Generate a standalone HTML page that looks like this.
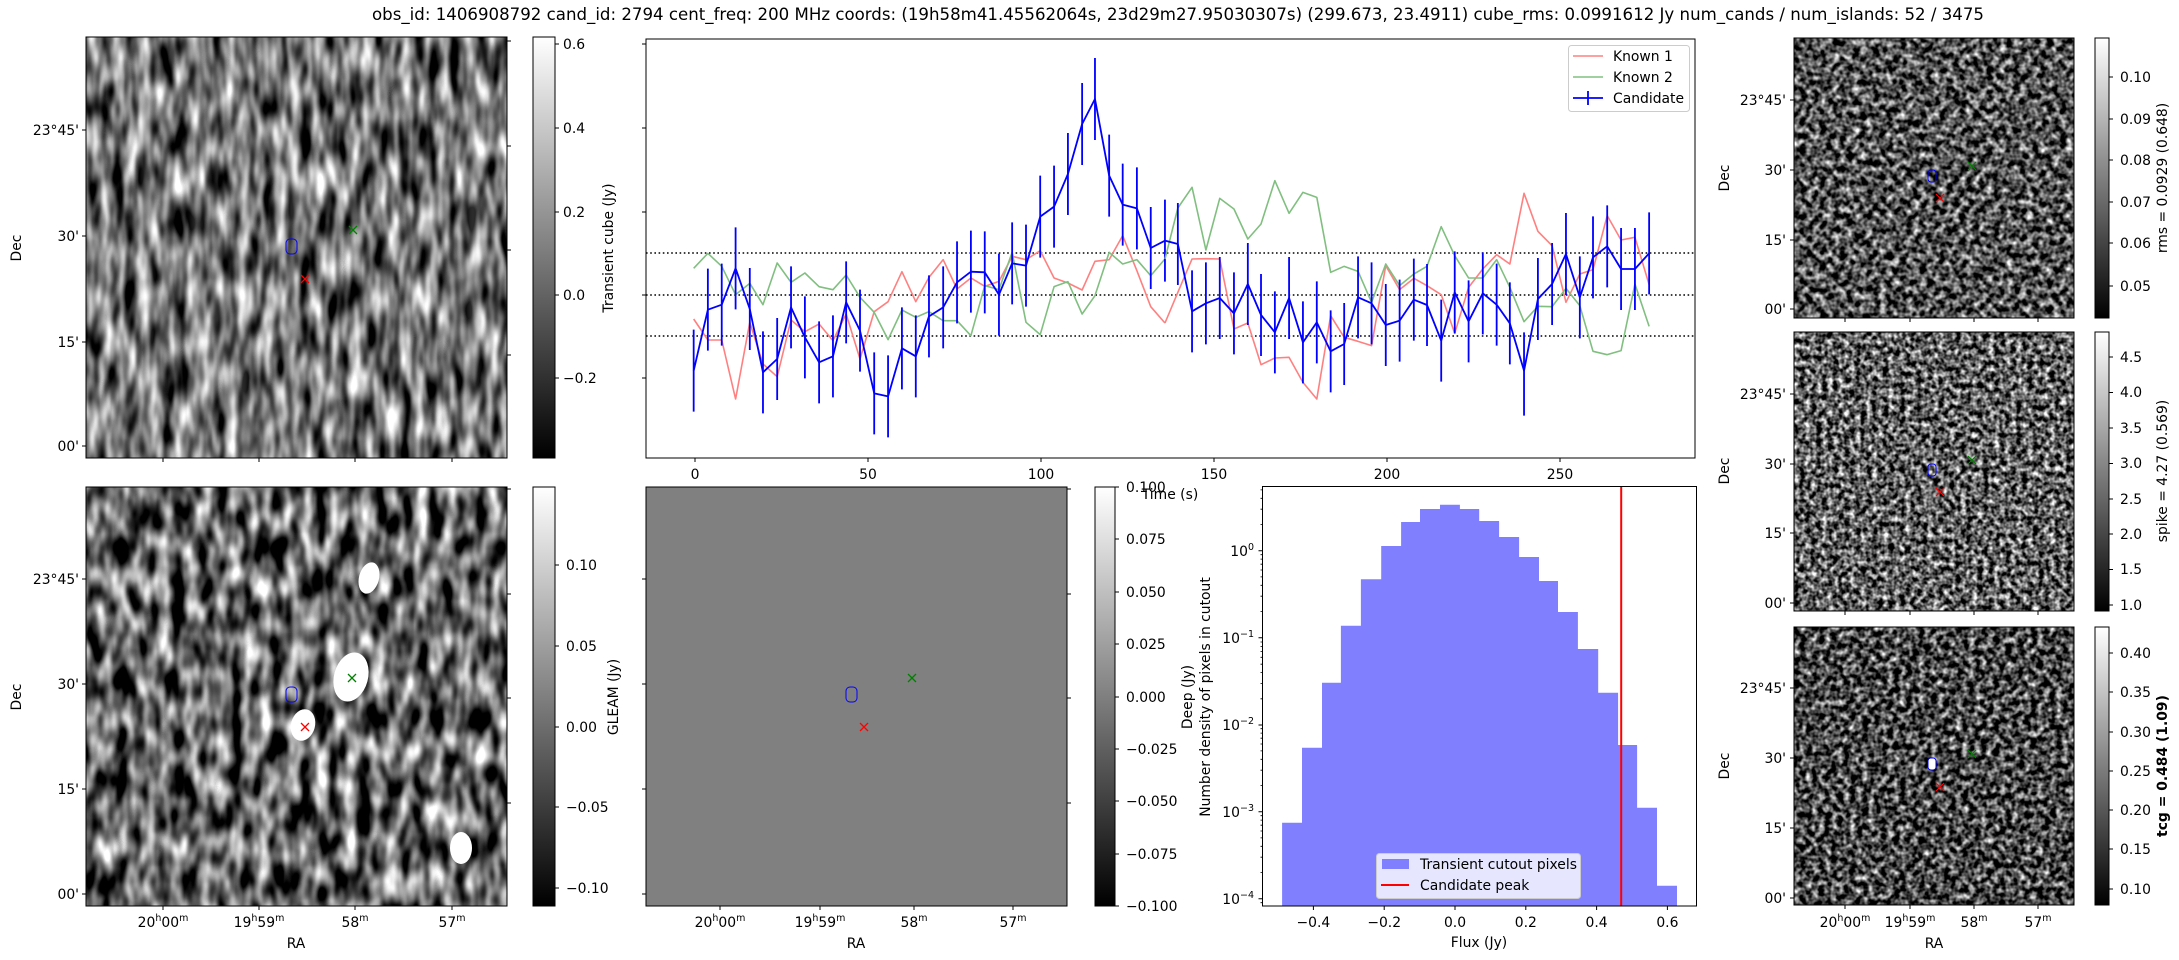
<!DOCTYPE html>
<html><head><meta charset="utf-8"><style>
html,body{margin:0;padding:0;background:#fff;}
svg{display:block;font-family:"DejaVu Sans","Liberation Sans",sans-serif;}
</style></head><body>
<svg width="2179" height="960" viewBox="0 0 2179 960" xmlns="http://www.w3.org/2000/svg">
<defs>
<linearGradient id="cb" x1="0" y1="1" x2="0" y2="0"><stop offset="0" stop-color="#000"/><stop offset="1" stop-color="#fff"/></linearGradient>
<filter id="nTL" x="0" y="0" width="1" height="1" color-interpolation-filters="sRGB"><feTurbulence type="fractalNoise" baseFrequency="0.08 0.025" numOctaves="2" seed="4"/><feColorMatrix type="matrix" values="1.9 0 0 0 -0.5 1.9 0 0 0 -0.5 1.9 0 0 0 -0.5 0 0 0 0 1"/></filter>
<filter id="nBL" x="0" y="0" width="1" height="1" color-interpolation-filters="sRGB"><feTurbulence type="fractalNoise" baseFrequency="0.07 0.03" numOctaves="2" seed="11"/><feColorMatrix type="matrix" values="2.1 0 0 0 -0.65 2.1 0 0 0 -0.65 2.1 0 0 0 -0.65 0 0 0 0 1"/></filter>
<filter id="nR1" x="0" y="0" width="1" height="1" color-interpolation-filters="sRGB"><feTurbulence type="fractalNoise" baseFrequency="0.15" numOctaves="2" seed="21"/><feColorMatrix type="matrix" values="2 0 0 0 -0.68 2 0 0 0 -0.68 2 0 0 0 -0.68 0 0 0 0 1"/></filter>
<filter id="nR2" x="0" y="0" width="1" height="1" color-interpolation-filters="sRGB"><feTurbulence type="fractalNoise" baseFrequency="0.18" numOctaves="2" seed="33"/><feColorMatrix type="matrix" values="2.1 0 0 0 -0.68 2.1 0 0 0 -0.68 2.1 0 0 0 -0.68 0 0 0 0 1"/></filter>
<filter id="nR3" x="0" y="0" width="1" height="1" color-interpolation-filters="sRGB"><feTurbulence type="fractalNoise" baseFrequency="0.16" numOctaves="2" seed="45"/><feColorMatrix type="matrix" values="2 0 0 0 -0.72 2 0 0 0 -0.72 2 0 0 0 -0.72 0 0 0 0 1"/></filter>
<filter id="blur"><feGaussianBlur stdDeviation="3"/></filter>
<clipPath id="cLC"><rect x="646" y="39" width="1049" height="419"/></clipPath>
<clipPath id="cTL"><rect x="86" y="37" width="421" height="421"/></clipPath>
<clipPath id="cBL"><rect x="86" y="487" width="421" height="419"/></clipPath>
</defs>

<text x="1178" y="20" font-size="16.5" text-anchor="middle" textLength="1612" lengthAdjust="spacingAndGlyphs">obs_id: 1406908792 cand_id: 2794 cent_freq: 200 MHz coords: (19h58m41.45562064s, 23d29m27.95030307s) (299.673, 23.4911) cube_rms: 0.0991612 Jy num_cands / num_islands: 52 / 3475</text>

<g font-size="13.9" fill="#000">
<g clip-path="url(#cTL)">
<rect x="86" y="37" width="421" height="421" fill="#808080"/>
<rect x="86" y="37" width="421" height="421" filter="url(#nTL)"/>
<g fill="#fff" opacity="0.18" filter="url(#blur)">
<rect x="143" y="37" width="9" height="421"/><rect x="192" y="37" width="10" height="421"/><rect x="239" y="37" width="8" height="421"/><rect x="289" y="37" width="9" height="421"/><rect x="468" y="37" width="10" height="421"/>
</g>
</g>
<rect x="86" y="37" width="421" height="421" fill="none" stroke="#000" stroke-width="1"/>
<rect x="286" y="239" width="11" height="15" rx="4" fill="none" stroke="#00f" stroke-width="1"/>
<path d="M349 226l8 8M357 226l-8 8" stroke="#008000" stroke-width="1.3"/>
<path d="M301 275l8 8M309 275l-8 8" stroke="#f00" stroke-width="1.3"/>
<path d="M86 130h-4M86 236h-4M86 342h-4M86 446h-4M163 458v4M259 458v4M355 458v4M452 458v4M507 41h4M507 146h4M507 250h4M507 355h4" stroke="#000"/>
<g text-anchor="end"><text x="79" y="135">23°45'</text><text x="79" y="241">30'</text><text x="79" y="347">15'</text><text x="79" y="451">00'</text></g>
<text transform="translate(21,248) rotate(-90)" text-anchor="middle">Dec</text>
<rect x="533" y="37" width="22" height="421" fill="url(#cb)" stroke="#000"/>
<path d="M555 44h4M555 128h4M555 212h4M555 295h4M555 378h4" stroke="#000"/>
<text x="563" y="49">0.6</text><text x="563" y="133">0.4</text><text x="563" y="217">0.2</text><text x="563" y="300">0.0</text><text x="563" y="383">−0.2</text>
<text transform="translate(613,248) rotate(-90)" text-anchor="middle">Transient cube (Jy)</text>

<rect x="646" y="39" width="1049" height="419" fill="none" stroke="#000"/>
<path d="M646 44h-4M646 128h-4M646 212h-4M646 295h-4M646 378h-4" stroke="#000"/>
<path d="M695 458v4M868 458v4M1041 458v4M1214 458v4M1387 458v4M1560 458v4" stroke="#000"/>
<g text-anchor="middle"><text x="695" y="479">0</text><text x="868" y="479">50</text><text x="1041" y="479">100</text><text x="1214" y="479">150</text><text x="1387" y="479">200</text><text x="1560" y="479">250</text>
<text x="1170" y="499">Time (s)</text></g>
<g stroke="#000" stroke-width="1.6" stroke-dasharray="1.6 2.6"><path d="M646 253H1695M646 295H1695M646 336H1695"/></g>
<g clip-path="url(#cLC)">
<g transform="translate(646,39) scale(0.33808,0.33333)" fill="none" stroke-linejoin="round">
<polyline vector-effect="non-scaling-stroke" stroke="#ff8080" stroke-width="1.6" points="141,840 183,903 224,903 265,1080 307,850 346,975 388,1013 429,843 470,878 512,855 553,905 592,825 633,960 675,818 716,788 757,698 798,788 837,715 879,662 920,750 961,717 1002,742 1044,727 1083,652 1124,662 1166,635 1207,717 1248,732 1290,753 1328,667 1370,662 1410,590 1452,695 1493,803 1535,852"/>
<polyline vector-effect="non-scaling-stroke" stroke="#80bf80" stroke-width="1.6" points="141,688 183,643 224,682 265,767 307,733 346,797 388,672 429,730 470,702 512,743 553,752 592,708 633,775 675,820 716,902 757,813 798,835 837,818 879,845 920,845 961,890 1002,740 1044,752 1083,640 1124,850 1166,887 1207,743 1248,728 1290,825 1328,770 1370,640 1410,675 1452,662 1493,710 1535,660"/>
<polyline vector-effect="non-scaling-stroke" stroke="#00f" stroke-width="1.8" points="141,995 183,812 224,797 265,688 307,810 346,1000 388,960 429,805 470,895 512,970 553,952 592,790 633,875 675,1063 716,1072 757,928 798,952 837,832 879,805 920,730 961,698 1002,700 1044,767 1083,673 1124,680 1166,533 1207,503 1248,405 1290,255 1328,180 1370,410 1410,497 1452,508 1493,627 1535,605"/>
<path vector-effect="non-scaling-stroke" stroke="#00f" stroke-width="1.8" d="M141 872v246M183 689v246M224 674v246M265 565v246M307 687v246M346 877v246M388 837v246M429 682v246M470 772v246M512 847v246M553 829v246M592 667v246M633 752v246M675 940v246M716 949v246M757 805v246M798 829v246M837 709v246M879 682v246M920 607v246M961 575v246M1002 577v246M1044 644v246M1083 550v246M1124 557v246M1166 410v246M1207 380v246M1248 282v246M1290 132v246M1328 57v246M1370 287v246M1410 374v246M1452 385v246M1493 504v246M1535 482v246"/>
</g>
<g transform="translate(1165,39) scale(0.33808,0.33333)" fill="none" stroke-linejoin="round">
<polyline vector-effect="non-scaling-stroke" stroke="#ff8080" stroke-width="1.6" points="0,852 38,760 80,660 121,659 162,660 204,870 245,852 284,977 325,957 367,955 408,1030 449,1080 490,830 530,895 571,907 611,920 653,680 694,752 736,718 775,740 817,767 857,883 898,745 940,690 981,647 1020,675 1062,463 1103,577 1145,620 1186,790 1227,705 1266,692 1308,530 1349,603 1390,595 1432,737"/>
<polyline vector-effect="non-scaling-stroke" stroke="#80bf80" stroke-width="1.6" points="0,660 38,507 80,445 121,633 162,478 204,510 245,600 284,555 325,425 367,523 408,460 449,475 490,700 530,682 571,697 611,790 653,675 694,740 736,705 775,682 817,563 857,650 898,717 940,717 981,662 1020,745 1062,848 1103,802 1145,803 1186,748 1227,800 1266,937 1308,947 1349,935 1390,735 1432,862"/>
<polyline vector-effect="non-scaling-stroke" stroke="#00f" stroke-width="1.8" points="0,605 38,615 80,817 121,793 162,777 204,823 245,735 284,828 325,880 367,777 408,910 449,850 490,937 530,915 571,775 611,793 653,858 694,845 736,782 775,798 817,905 857,760 898,847 940,763 981,797 1020,853 1062,995 1103,780 1145,735 1186,645 1227,775 1266,655 1308,622 1349,690 1390,690 1432,643"/>
<path vector-effect="non-scaling-stroke" stroke="#00f" stroke-width="1.8" d="M38 492v246M80 694v246M121 670v246M162 654v246M204 700v246M245 612v246M284 705v246M325 757v246M367 654v246M408 787v246M449 727v246M490 814v246M530 792v246M571 652v246M611 670v246M653 735v246M694 722v246M736 659v246M775 675v246M817 782v246M857 637v246M898 724v246M940 640v246M981 674v246M1020 730v246M1062 880v250M1103 657v246M1145 612v246M1186 522v246M1227 652v246M1266 532v246M1308 499v246M1349 567v246M1390 567v246M1432 520v246"/>
</g>
</g>
<rect x="1568.5" y="45.5" width="121" height="66" rx="3" fill="#fff" fill-opacity="0.85" stroke="#ccc"/>
<path d="M1573 56h30" stroke="#ff8080" stroke-width="1.6"/>
<path d="M1573 77h30" stroke="#80bf80" stroke-width="1.6"/>
<path d="M1573 98h30M1588 91v14" stroke="#00f" stroke-width="1.8"/>
<text x="1613" y="61">Known 1</text><text x="1613" y="82">Known 2</text><text x="1613" y="103">Candidate</text>

<g clip-path="url(#cBL)">
<rect x="86" y="487" width="421" height="419" fill="#6a6a6a"/>
<rect x="86" y="487" width="421" height="419" filter="url(#nBL)"/>
<g fill="#fff">
<ellipse cx="369" cy="578" rx="10" ry="16" transform="rotate(15 369 578)"/>
<ellipse cx="351" cy="677" rx="17" ry="25" transform="rotate(15 351 677)"/>
<ellipse cx="303" cy="725" rx="12" ry="16" transform="rotate(15 303 725)"/>
<ellipse cx="461" cy="848" rx="11" ry="16"/>
</g>
</g>
<rect x="86" y="487" width="421" height="419" fill="none" stroke="#000"/>
<rect x="286" y="687" width="11" height="15" rx="4" fill="none" stroke="#00f"/>
<path d="M348 674l8 8M356 674l-8 8" stroke="#008000" stroke-width="1.3"/>
<path d="M301 723l8 8M309 723l-8 8" stroke="#f00" stroke-width="1.3"/>
<path d="M86 579h-4M86 684h-4M86 789h-4M86 894h-4M163 906v4M259 906v4M355 906v4M452 906v4M507 489h4M507 594h4M507 698h4M507 803h4" stroke="#000"/>
<g text-anchor="end"><text x="79" y="584">23°45'</text><text x="79" y="689">30'</text><text x="79" y="794">15'</text><text x="79" y="899">00'</text></g>
<text transform="translate(21,697) rotate(-90)" text-anchor="middle">Dec</text>
<g text-anchor="middle">
<text x="163" y="927">20<tspan font-size="9.5" dy="-6">h</tspan><tspan dy="6">00</tspan><tspan font-size="9.5" dy="-6">m</tspan></text>
<text x="259" y="927">19<tspan font-size="9.5" dy="-6">h</tspan><tspan dy="6">59</tspan><tspan font-size="9.5" dy="-6">m</tspan></text>
<text x="355" y="927">58<tspan font-size="9.5" dy="-6">m</tspan></text>
<text x="452" y="927">57<tspan font-size="9.5" dy="-6">m</tspan></text>
<text x="296" y="948">RA</text>
</g>
<rect x="533" y="487" width="22" height="419" fill="url(#cb)" stroke="#000"/>
<path d="M555 565h4M555 646h4M555 727h4M555 807h4M555 888h4" stroke="#000"/>
<text x="566" y="570">0.10</text><text x="566" y="651">0.05</text><text x="566" y="732">0.00</text><text x="566" y="812">−0.05</text><text x="566" y="893">−0.10</text>
<text transform="translate(618,697) rotate(-90)" text-anchor="middle">GLEAM (Jy)</text>

<rect x="646" y="487" width="421" height="419" fill="#808080" stroke="#000"/>
<rect x="846" y="687" width="11" height="15" rx="4" fill="none" stroke="#00f"/>
<path d="M908 674l8 8M916 674l-8 8" stroke="#008000" stroke-width="1.3"/>
<path d="M860 723l8 8M868 723l-8 8" stroke="#f00" stroke-width="1.3"/>
<path d="M646 579h-4M646 684h-4M646 789h-4M646 894h-4M720 906v4M820 906v4M914 906v4M1013 906v4M1067 489h4M1067 594h4M1067 698h4M1067 803h4" stroke="#000"/>
<g text-anchor="middle">
<text x="720" y="927">20<tspan font-size="9.5" dy="-6">h</tspan><tspan dy="6">00</tspan><tspan font-size="9.5" dy="-6">m</tspan></text>
<text x="820" y="927">19<tspan font-size="9.5" dy="-6">h</tspan><tspan dy="6">59</tspan><tspan font-size="9.5" dy="-6">m</tspan></text>
<text x="914" y="927">58<tspan font-size="9.5" dy="-6">m</tspan></text>
<text x="1013" y="927">57<tspan font-size="9.5" dy="-6">m</tspan></text>
<text x="856" y="948">RA</text>
</g>
<rect x="1095" y="487" width="20" height="419" fill="url(#cb)" stroke="#000"/>
<path d="M1115 487h4M1115 539h4M1115 592h4M1115 644h4M1115 697h4M1115 749h4M1115 801h4M1115 854h4M1115 906h4" stroke="#000"/>
<text x="1126" y="492">0.100</text><text x="1126" y="544">0.075</text><text x="1126" y="597">0.050</text><text x="1126" y="649">0.025</text><text x="1126" y="702">0.000</text><text x="1126" y="754">−0.025</text><text x="1126" y="806">−0.050</text><text x="1126" y="859">−0.075</text><text x="1126" y="911">−0.100</text>
<text transform="translate(1192,697) rotate(-90)" text-anchor="middle">Deep (Jy)</text>

<path d="M1282.1 906V822.7H1302V747.7H1322V682.7H1340.9V625.7H1360.9V579.3H1381.2V546H1401.1V522H1420V509H1440V504.7H1459.9V509H1479.2V521H1499.1V537H1519.1V557H1539V581H1558V612H1577.9V649H1598.2V692.7H1618.1V745H1637.1V807.7H1657V885.7H1677V906Z" fill="#8080ff"/>
<path d="M1621.2 486V906" stroke="#f00" stroke-width="2"/>
<rect x="1262.5" y="486.5" width="434" height="419.5" fill="none" stroke="#000"/>
<path d="M1262.5 898.7h-4M1262.5 811.7h-4M1262.5 725h-4M1262.5 637.7h-4M1262.5 550.7h-4" stroke="#000"/>
<path d="M1262.5 902.7h-2M1262.5 872.5h-2M1262.5 857.2h-2M1262.5 846.3h-2M1262.5 837.9h-2M1262.5 831h-2M1262.5 825.2h-2M1262.5 820.1h-2M1262.5 815.7h-2M1262.5 785.5h-2M1262.5 770.2h-2M1262.5 759.3h-2M1262.5 750.9h-2M1262.5 744h-2M1262.5 738.2h-2M1262.5 733.1h-2M1262.5 728.7h-2M1262.5 698.8h-2M1262.5 683.5h-2M1262.5 672.6h-2M1262.5 664.2h-2M1262.5 657.3h-2M1262.5 651.5h-2M1262.5 646.4h-2M1262.5 642h-2M1262.5 611.5h-2M1262.5 596.2h-2M1262.5 585.3h-2M1262.5 576.9h-2M1262.5 570h-2M1262.5 564.2h-2M1262.5 559.1h-2M1262.5 554.7h-2M1262.5 524.5h-2M1262.5 509.2h-2M1262.5 498.3h-2M1262.5 489.9h-2" stroke="#000" stroke-width="0.8"/>
<g text-anchor="end"><text x="1254" y="556">10<tspan font-size="9.5" dy="-6">0</tspan></text><text x="1254" y="643">10<tspan font-size="9.5" dy="-6">−1</tspan></text><text x="1254" y="730">10<tspan font-size="9.5" dy="-6">−2</tspan></text><text x="1254" y="817">10<tspan font-size="9.5" dy="-6">−3</tspan></text><text x="1254" y="904">10<tspan font-size="9.5" dy="-6">−4</tspan></text></g>
<path d="M1313.4 906v4M1384.2 906v4M1455 906v4M1525.8 906v4M1596.6 906v4M1667.4 906v4" stroke="#000"/>
<g text-anchor="middle"><text x="1313.4" y="927">−0.4</text><text x="1384.2" y="927">−0.2</text><text x="1455" y="927">0.0</text><text x="1525.8" y="927">0.2</text><text x="1596.6" y="927">0.4</text><text x="1667.4" y="927">0.6</text>
<text x="1479" y="947">Flux (Jy)</text></g>
<text transform="translate(1210,697) rotate(-90)" text-anchor="middle">Number density of pixels in cutout</text>
<rect x="1376.5" y="853.5" width="204" height="45" rx="3" fill="#fff" fill-opacity="0.8" stroke="#ccc"/>
<rect x="1382" y="859" width="27" height="10" fill="#8080ff"/>
<path d="M1381 885h28" stroke="#f00" stroke-width="2"/>
<text x="1420" y="869">Transient cutout pixels</text><text x="1420" y="890">Candidate peak</text>

<rect x="1794" y="38" width="280" height="280" fill="#555" filter="url(#nR1)"/>
<rect x="1794" y="332" width="280" height="279" fill="#555" filter="url(#nR2)"/>
<rect x="1794" y="627" width="280" height="278" fill="#555" filter="url(#nR3)"/>
<g fill="none" stroke="#000"><rect x="1794" y="38" width="280" height="280"/><rect x="1794" y="332" width="280" height="279"/><rect x="1794" y="627" width="280" height="278"/></g>
<g fill="none" stroke="#00f"><rect x="1928" y="170" width="8" height="12" rx="3"/><rect x="1928" y="464" width="8" height="12" rx="3"/><rect x="1928" y="758" width="8" height="12" rx="3" fill="#fff"/></g>
<path d="M1968 162l8 8M1976 162l-8 8M1968 456l8 8M1976 456l-8 8M1968 750l8 8M1976 750l-8 8" stroke="#008000" stroke-width="1.2"/>
<path d="M1936 194l8 8M1944 194l-8 8M1936 488l8 8M1944 488l-8 8M1936 783l8 8M1944 783l-8 8" stroke="#f00" stroke-width="1.2"/>
<path d="M1794 100h-4M1794 170h-4M1794 240h-4M1794 309h-4M1794 394h-4M1794 464h-4M1794 533h-4M1794 603h-4M1794 688h-4M1794 758h-4M1794 828h-4M1794 898h-4M1845 905v4M1910 905v4M1974 905v4M2038 905v4M1845 318v4M1910 318v4M1974 318v4M2038 318v4M1845 611v4M1910 611v4M1974 611v4M2038 611v4" stroke="#000"/>
<g text-anchor="end">
<text x="1786" y="105">23°45'</text><text x="1786" y="175">30'</text><text x="1786" y="245">15'</text><text x="1786" y="314">00'</text>
<text x="1786" y="399">23°45'</text><text x="1786" y="469">30'</text><text x="1786" y="538">15'</text><text x="1786" y="608">00'</text>
<text x="1786" y="693">23°45'</text><text x="1786" y="763">30'</text><text x="1786" y="833">15'</text><text x="1786" y="903">00'</text>
</g>
<text transform="translate(1729,178) rotate(-90)" text-anchor="middle">Dec</text>
<text transform="translate(1729,471) rotate(-90)" text-anchor="middle">Dec</text>
<text transform="translate(1729,766) rotate(-90)" text-anchor="middle">Dec</text>
<g text-anchor="middle">
<text x="1845" y="927">20<tspan font-size="9.5" dy="-6">h</tspan><tspan dy="6">00</tspan><tspan font-size="9.5" dy="-6">m</tspan></text>
<text x="1910" y="927">19<tspan font-size="9.5" dy="-6">h</tspan><tspan dy="6">59</tspan><tspan font-size="9.5" dy="-6">m</tspan></text>
<text x="1974" y="927">58<tspan font-size="9.5" dy="-6">m</tspan></text>
<text x="2038" y="927">57<tspan font-size="9.5" dy="-6">m</tspan></text>
<text x="1934" y="948">RA</text>
</g>
<rect x="2095" y="38" width="14" height="280" fill="url(#cb)" stroke="#000"/>
<rect x="2095" y="332" width="14" height="279" fill="url(#cb)" stroke="#000"/>
<rect x="2095" y="627" width="14" height="278" fill="url(#cb)" stroke="#000"/>
<path d="M2109 77h4M2109 119h4M2109 160h4M2109 202h4M2109 243h4M2109 286h4M2109 357h4M2109 392.5h4M2109 428h4M2109 463.5h4M2109 499h4M2109 534h4M2109 569.5h4M2109 605h4M2109 653h4M2109 692h4M2109 732h4M2109 771h4M2109 810h4M2109 849h4M2109 889h4" stroke="#000"/>
<text x="2120" y="82">0.10</text><text x="2120" y="124">0.09</text><text x="2120" y="165">0.08</text><text x="2120" y="207">0.07</text><text x="2120" y="248">0.06</text><text x="2120" y="291">0.05</text>
<text x="2120" y="362">4.5</text><text x="2120" y="397">4.0</text><text x="2120" y="433">3.5</text><text x="2120" y="468">3.0</text><text x="2120" y="504">2.5</text><text x="2120" y="539">2.0</text><text x="2120" y="574">1.5</text><text x="2120" y="610">1.0</text>
<text x="2120" y="658">0.40</text><text x="2120" y="697">0.35</text><text x="2120" y="737">0.30</text><text x="2120" y="776">0.25</text><text x="2120" y="815">0.20</text><text x="2120" y="854">0.15</text><text x="2120" y="894">0.10</text>
<text transform="translate(2167,178) rotate(-90)" text-anchor="middle">rms = 0.0929 (0.648)</text>
<text transform="translate(2167,471) rotate(-90)" text-anchor="middle">spike = 4.27 (0.569)</text>
<text transform="translate(2167,766) rotate(-90)" text-anchor="middle" font-weight="bold">tcg = 0.484 (1.09)</text>
</g>
</svg>
</body></html>
